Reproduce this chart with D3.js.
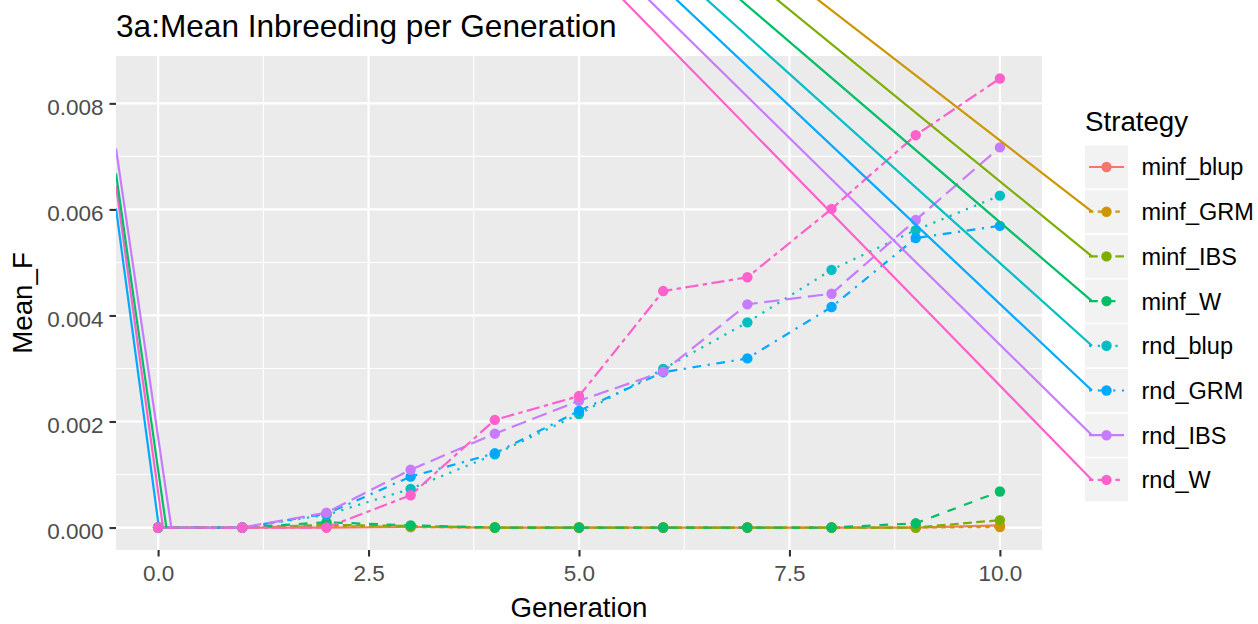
<!DOCTYPE html>
<html>
<head>
<meta charset="utf-8">
<script src="https://cdn.jsdelivr.net/npm/d3@7"></script>
<style>
  html, body { margin: 0; padding: 0; background: #fff; }
  svg { display: block; font-family: "Liberation Sans", Arial, sans-serif; }
</style>
</head>
<body>
<div id="chart"></div>
<script>
// data
const generations = [0, 1, 2, 3, 4, 5, 6, 7, 8, 9, 10];
const strategies = ["minf_blup", "minf_GRM", "minf_IBS", "minf_W", "rnd_blup", "rnd_GRM", "rnd_IBS", "rnd_W"];
const minf_blup = [0, 0, 0, 0.00001, 0, 0, 0, 0, 0, 0, 0.00004];
const minf_GRM  = [0, 0, 0.00003, 0.00001, 0, 0, 0, 0, 0, 0, 0.00001];
const minf_IBS  = [0, 0, 0.00005, 0.00003, 0, 0, 0, 0, 0, 0, 0.00014];
const minf_W    = [0, 0, 0.0001, 0.00004, 0, 0, 0, 0, 0, 0.00008, 0.00068];
const rnd_blup  = [0, 0, 0.00024, 0.00073, 0.00138, 0.00214, 0.00299, 0.00387, 0.00486, 0.00561, 0.00626];
const rnd_GRM   = [0, 0, 0.00026, 0.00096, 0.0014, 0.0022, 0.00293, 0.00319, 0.00416, 0.00546, 0.00569];
const rnd_IBS   = [0, 0, 0.00028, 0.00109, 0.00177, 0.00239, 0.00294, 0.00421, 0.00441, 0.0058, 0.00717];
const rnd_W     = [0, 0, 0, 0.00061, 0.00203, 0.00248, 0.00446, 0.00472, 0.00601, 0.0074, 0.00847];
const seriesValues = [minf_blup, minf_GRM, minf_IBS, minf_W, rnd_blup, rnd_GRM, rnd_IBS, rnd_W];
const xTicks = [0, 2.5, 5, 7.5, 10];
const yTicks = [0, 0.002, 0.004, 0.006, 0.008];

// stray strokes seen in the picture: value at the panel's left edge, generation where it reaches 0
const leftStrayNames = ["rnd_GRM", "rnd_W", "minf_W", "rnd_IBS"];
const leftStrayTop   = [0.00602, 0.00645, 0.00668, 0.00715];
const leftStrayFoot  = [0.01, 0.058, 0.098, 0.157];
const topStrayNames  = ["minf_GRM", "minf_IBS", "minf_W", "rnd_blup", "rnd_GRM", "rnd_IBS", "rnd_W"];

const colors = ["#F8766D", "#CD9600", "#7CAE00", "#00BE67", "#00BFC4", "#00A9FF", "#C77CFF", "#FF61CC"];
const linetypes = ["solid", "22", "42", "44", "13", "1343", "73", "2262"];

const W = 1258, H = 624;
const panel = {left: 116, right: 1042, top: 56, bottom: 550};
const lw = 2.2;
const ptR = 5.2;
const dash = lt => lt === "solid" ? null : lt.split("").map(d => +d * lw).join(",");

const svg = d3.select("#chart").append("svg").attr("width", W).attr("height", H);

const x = d3.scaleLinear().domain([-0.5, 10.5]).range([panel.left, panel.right]);
const yMax = d3.max(seriesValues.flat());
const y = d3.scaleLinear()
  .domain([-0.05 * yMax, 1.05 * yMax])
  .range([panel.bottom, panel.top]);

svg.append("defs").append("clipPath").attr("id", "pclip")
  .append("rect").attr("x", panel.left).attr("y", panel.top)
  .attr("width", panel.right - panel.left).attr("height", panel.bottom - panel.top);

// panel background and grid
svg.append("rect").attr("x", panel.left).attr("y", panel.top)
  .attr("width", panel.right - panel.left).attr("height", panel.bottom - panel.top)
  .attr("fill", "#EBEBEB");

const grid = svg.append("g");
[1.25, 3.75, 6.25, 8.75].forEach(v => grid.append("line")
  .attr("x1", x(v)).attr("x2", x(v)).attr("y1", panel.top).attr("y2", panel.bottom)
  .attr("stroke", "#fff").attr("stroke-width", 1.1));
[0.001, 0.003, 0.005, 0.007].forEach(v => grid.append("line")
  .attr("x1", panel.left).attr("x2", panel.right).attr("y1", y(v)).attr("y2", y(v))
  .attr("stroke", "#fff").attr("stroke-width", 1.1));
xTicks.forEach(v => grid.append("line")
  .attr("x1", x(v)).attr("x2", x(v)).attr("y1", panel.top).attr("y2", panel.bottom)
  .attr("stroke", "#fff").attr("stroke-width", 2.2));
yTicks.forEach(v => grid.append("line")
  .attr("x1", panel.left).attr("x2", panel.right).attr("y1", y(v)).attr("y2", y(v))
  .attr("stroke", "#fff").attr("stroke-width", 2.2));

// lines
const plot = svg.append("g").attr("clip-path", "url(#pclip)");
const line = d3.line().x((d, i) => x(generations[i])).y(d => y(d));
seriesValues.forEach((vals, k) => {
  plot.append("path").datum(vals)
    .attr("d", line)
    .attr("fill", "none")
    .attr("stroke", colors[k])
    .attr("stroke-width", lw)
    .attr("stroke-dasharray", dash(linetypes[k]));
});

// stray strokes at the left edge
leftStrayNames.forEach((name, i) => {
  const k = strategies.indexOf(name);
  plot.append("line")
    .attr("x1", x(-0.5)).attr("y1", y(leftStrayTop[i]))
    .attr("x2", x(leftStrayFoot[i])).attr("y2", y(0))
    .attr("stroke", colors[k]).attr("stroke-width", lw);
});

// points
seriesValues.forEach((vals, k) => {
  plot.selectAll(null).data(vals).enter().append("circle")
    .attr("cx", (d, i) => x(generations[i]))
    .attr("cy", d => y(d))
    .attr("r", ptR)
    .attr("fill", colors[k]);
});

// axes
const xAxis = svg.append("g").attr("transform", `translate(0,${panel.bottom})`)
  .call(d3.axisBottom(x).tickValues(xTicks).tickFormat(d3.format(".1f")).tickSize(6.5).tickPadding(5));
const yAxis = svg.append("g").attr("transform", `translate(${panel.left},0)`)
  .call(d3.axisLeft(y).tickValues(yTicks).tickFormat(d3.format(".3f")).tickSize(6.5).tickPadding(6));
[xAxis, yAxis].forEach(a => {
  a.select(".domain").remove();
  a.selectAll(".tick line").attr("stroke", "#333333").attr("stroke-width", 2.1);
  a.selectAll(".tick text").attr("fill", "#4D4D4D").attr("font-size", 22.5)
    .attr("font-family", "Liberation Sans, Arial, sans-serif");
});
xAxis.selectAll(".tick text").attr("dy", "0.85em");
yAxis.selectAll(".tick text").attr("dy", "0.5em");

// titles
svg.append("text").attr("x", panel.left).attr("y", 37)
  .attr("font-size", 31.6).attr("fill", "#000")
  .text("3a:Mean Inbreeding per Generation");
svg.append("text").attr("x", (panel.left + panel.right) / 2).attr("y", 617)
  .attr("text-anchor", "middle").attr("font-size", 27.7).attr("fill", "#000")
  .text("Generation");
svg.append("text")
  .attr("transform", `translate(32,${(panel.top + panel.bottom) / 2}) rotate(-90)`)
  .attr("text-anchor", "middle").attr("font-size", 27.7).attr("fill", "#000")
  .text("Mean_F");

// legend
const legend = {x: 1085, keyW: 43, pitch: 44.7, firstCenter: 167};
const keyY = k => legend.firstCenter + k * legend.pitch;
svg.append("text").attr("x", legend.x).attr("y", 131)
  .attr("font-size", 27.7).attr("fill", "#000").text("Strategy");
const lg = svg.append("g");
strategies.forEach((s, k) => {
  const cy = keyY(k);
  lg.append("rect").attr("x", legend.x).attr("y", cy - legend.pitch / 2 + 0.8)
    .attr("width", legend.keyW).attr("height", legend.pitch - 1.6)
    .attr("fill", "#F2F2F2");
  lg.append("line")
    .attr("x1", legend.x + 4).attr("x2", legend.x + legend.keyW - 4)
    .attr("y1", cy).attr("y2", cy)
    .attr("stroke", colors[k]).attr("stroke-width", lw)
    .attr("stroke-dasharray", dash(linetypes[k]));
  lg.append("circle").attr("cx", legend.x + legend.keyW / 2).attr("cy", cy)
    .attr("r", ptR).attr("fill", colors[k]);
  lg.append("text").attr("x", 1141.5).attr("y", cy).attr("dy", "0.36em")
    .attr("font-size", 23.5).attr("fill", "#000").text(s);
});

// long stray strokes running into the legend keys
const strayOrigin = [23, -615];
topStrayNames.forEach(name => {
  const k = strategies.indexOf(name);
  svg.append("line")
    .attr("x1", strayOrigin[0]).attr("y1", strayOrigin[1])
    .attr("x2", legend.x + 7).attr("y2", keyY(k))
    .attr("stroke", colors[k]).attr("stroke-width", lw);
});
</script>
</body>
</html>
